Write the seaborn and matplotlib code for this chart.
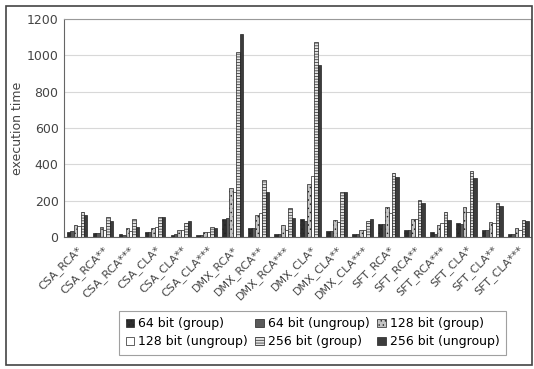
import numpy as np
import pandas as pd
import seaborn as sns
import matplotlib.pyplot as plt
from matplotlib.patches import Rectangle

categories = ["CSA_RCA*", "CSA_RCA**", "CSA_RCA***", "CSA_CLA*", "CSA_CLA**", "CSA_CLA***",
              "DMX_RCA*", "DMX_RCA**", "DMX_RCA***", "DMX_CLA*", "DMX_CLA**", "DMX_CLA***",
              "SFT_RCA*", "SFT_RCA**", "SFT_RCA***", "SFT_CLA*", "SFT_CLA**", "SFT_CLA***"]
series = ["64 bit (group)", "64 bit (ungroup)", "128 bit (group)",
          "128 bit (ungroup)", "256 bit (group)", "256 bit (ungroup)"]

bit64_group = [27, 21, 17, 25, 13, 10, 97, 50, 18, 97, 35, 15, 70, 38, 25, 76, 36, 18]
bit64_ungroup = [31, 21, 10, 25, 15, 12, 104, 48, 15, 88, 35, 18, 70, 38, 18, 70, 36, 18]
bit128_group = [63, 56, 50, 50, 36, 25, 268, 121, 64, 290, 95, 38, 165, 97, 64, 167, 84, 49]
bit128_ungroup = [60, 40, 31, 54, 40, 27, 245, 131, 40, 335, 82, 40, 132, 97, 76, 136, 76, 40]
bit256_group = [136, 108, 98, 108, 75, 54, 1020, 315, 160, 1075, 245, 90, 350, 205, 135, 365, 185, 95]
bit256_ungroup = [121, 88, 56, 111, 88, 50, 1120, 248, 106, 945, 245, 100, 330, 185, 91, 325, 170, 88]

values = [bit64_group, bit64_ungroup, bit128_group, bit128_ungroup, bit256_group, bit256_ungroup]
rows = []
for s, vals in zip(series, values):
    for c, v in zip(categories, vals):
        rows.append({"bench": c, "series": s, "time": v})
df = pd.DataFrame(rows)

# fill colour / hatch per series (scanned Excel look)
styles = [
    ("#2e2e2e", "...."),
    ("#5a5a5a", None),
    ("#c4c4c4", "...."),
    ("#ffffff", None),
    ("#e4e4e4", "------"),
    ("#3c3c3c", None),
]

plt.rcParams["font.family"] = ["DejaVu Sans"]
plt.rcParams["hatch.linewidth"] = 0.5
plt.rcParams["hatch.color"] = "#777777"

fig = plt.figure(figsize=(5.34, 3.69), dpi=100)
ax = fig.add_axes([0.12, 0.358, 0.875, 0.59])

sns.barplot(data=df, x="bench", y="time", hue="series", hue_order=series,
            order=categories, width=0.8, ax=ax, errorbar=None, legend=False,
            edgecolor="#222222", linewidth=0.5)

handles = []
for cont, (fc, hatch), lab in zip(ax.containers, styles, series):
    for bar in cont:
        bar.set_facecolor(fc)
        if hatch:
            bar.set_hatch(hatch)
    handles.append(Rectangle((0, 0), 1, 1, facecolor=fc, hatch=hatch,
                             edgecolor="#222222", linewidth=0.5, label=lab))

ax.set_ylim(0, 1200)
ax.set_yticks(range(0, 1201, 200))
ax.set_xlim(-0.5, len(categories) - 0.5)
ax.grid(axis="y", color="#d8d8d8", linewidth=0.8)
ax.set_axisbelow(True)
for sp in ax.spines.values():
    sp.set_color("#999999")
    sp.set_linewidth(0.8)
ax.spines["left"].set_color("#666666")
ax.spines["bottom"].set_color("#666666")

ax.set_xlabel("")
ax.set_ylabel("execution time", fontsize=9, color="#444444", labelpad=2)
ax.tick_params(axis="y", labelsize=9, colors="#444444", length=0, pad=4)
ax.tick_params(axis="x", labelsize=8, colors="#444444", length=0, pad=5)
plt.setp(ax.get_xticklabels(), rotation=45, ha="right", rotation_mode="anchor")

# legend ordered row-wise like the original
order = [0, 3, 1, 4, 2, 5]
leg = fig.legend([handles[i] for i in order], [series[i] for i in order],
                 loc="center", bbox_to_anchor=(0.585, 0.098), ncol=3,
                 fontsize=9, frameon=True, fancybox=False, edgecolor="#888888",
                 handlelength=0.7, handleheight=0.7, handletextpad=0.3,
                 columnspacing=0.6, labelspacing=0.4, borderpad=0.5)
leg.get_frame().set_linewidth(0.8)

# outer chart border
fig.patches.append(Rectangle((0.012, 0.01), 0.985, 0.975, transform=fig.transFigure,
                             fill=False, edgecolor="#444444", linewidth=1.2))

fig.savefig("out.png", dpi=100)
